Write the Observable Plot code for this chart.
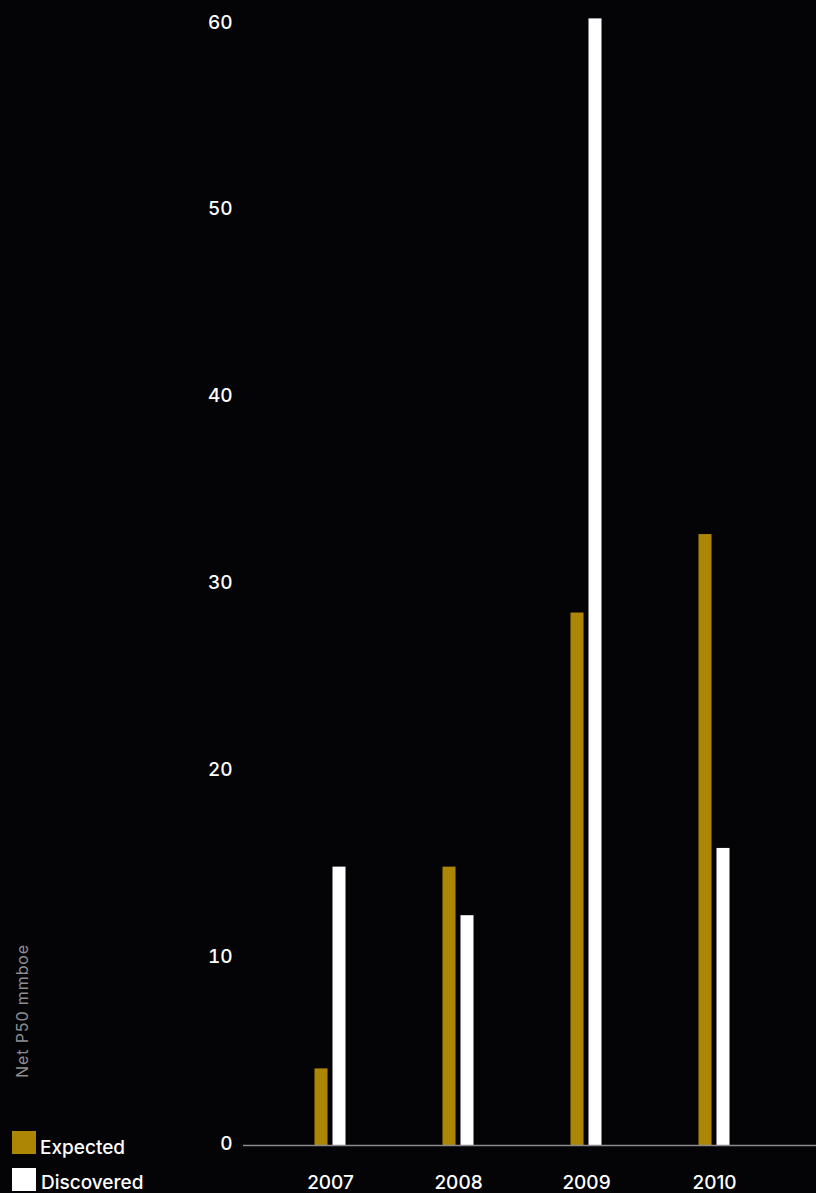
<!DOCTYPE html>
<html>
<head>
<meta charset="utf-8">
<script src="https://cdn.jsdelivr.net/npm/d3@7"></script>
<script src="https://cdn.jsdelivr.net/npm/@observablehq/plot@0.6"></script>
<style>
  html, body { margin: 0; padding: 0; background: #040407; }
  #chart { position: relative; width: 816px; height: 1193px; overflow: hidden; font-family: Inter, "Noto Sans", sans-serif; }
  .ylabel { position: absolute; left: 22px; top: 1011px; transform: translate(-50%, -50%) rotate(-90deg); color: #8e8e92; font-size: 16px; letter-spacing: 0.9px; white-space: nowrap; }
  .sw { position: absolute; left: 12px; width: 24px; height: 23px; }
  .lab { position: absolute; color: #ffffff; font-size: 19px; line-height: 19px; font-weight: 500; white-space: nowrap; }
</style>
</head>
<body>
<div id="chart"></div>
<script>
// Net P50 volumes (mmboe) per year
const years = ["2007", "2008", "2009", "2010"];
const expected = [4.1, 14.9, 28.5, 32.7];
const discovered = [14.9, 12.3, 60.3, 15.9];
const yTicks = [0, 10, 20, 30, 40, 50, 60];
const seriesNames = ["Expected", "Discovered"];
const seriesColors = ["#ad8606", "#ffffff"];

const expectedRows = years.map((year, i) => ({year, value: expected[i]}));
const discoveredRows = years.map((year, i) => ({year, value: discovered[i]}));

const plot = Plot.plot({
  width: 816,
  height: 1193,
  marginLeft: 243,
  marginRight: 0,
  marginTop: 24,
  marginBottom: 48,
  style: {background: "#040407", color: "#ffffff", fontFamily: "Inter, 'Noto Sans', sans-serif", fontSize: "19px", fontWeight: 500},
  x: {domain: years, range: [265, 779], padding: 0, label: null},
  y: {domain: [0, 60], label: null},
  marks: [
    Plot.axisY({ticks: yTicks, tickSize: 0, tickPadding: 11, dy: -2, label: null, fill: "#ffffff"}),
    Plot.axisX({tickSize: 0, tickPadding: 30, label: null, fill: "#ffffff", style: {letterSpacing: "0.5px"}}),
    // each band is ~128px wide; insets leave a 13px bar either side of centre
    Plot.barY(expectedRows, {x: "year", y: "value", fill: seriesColors[0], insetLeft: 48.5, insetRight: 66.5}),
    Plot.barY(discoveredRows, {x: "year", y: "value", fill: seriesColors[1], insetLeft: 66.5, insetRight: 48.5}),
    Plot.ruleY([0], {stroke: "#8c8c90", strokeWidth: 1.5})
  ]
});

const chart = document.getElementById("chart");
chart.appendChild(plot);

const ylab = document.createElement("div");
ylab.className = "ylabel";
ylab.textContent = "Net P50 mmboe";
chart.appendChild(ylab);

// legend: swatch + name, stacked at the bottom-left
const swatchTops = [1131, 1168];
const labelTops = [1138, 1173];
seriesNames.forEach((name, i) => {
  const sw = document.createElement("div");
  sw.className = "sw";
  sw.style.top = swatchTops[i] + "px";
  sw.style.background = seriesColors[i];
  chart.appendChild(sw);
  const lab = document.createElement("div");
  lab.className = "lab";
  lab.style.top = labelTops[i] + "px";
  lab.style.left = (40 + i) + "px";
  lab.textContent = name;
  chart.appendChild(lab);
});
</script>
</body>
</html>
